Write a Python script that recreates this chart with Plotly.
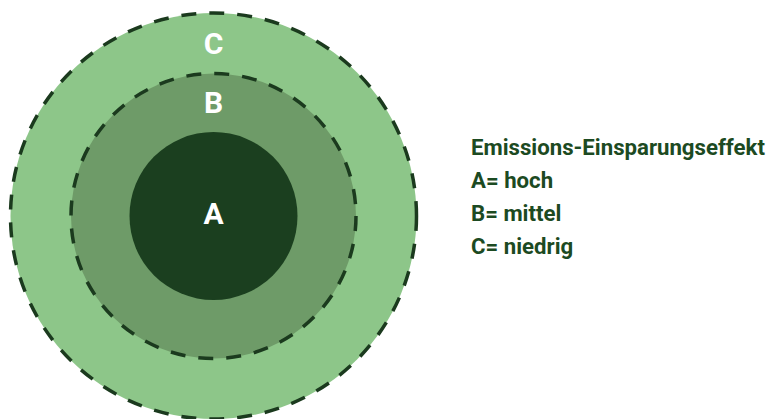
import plotly.graph_objects as go

# Data
levels = ["C", "B", "A"]
radii = [203, 142.5, 84]
fill_colors = ["#8dc689", "#6e9b68", "#1b3f1f"]
dashed = [True, True, False]
center = (213.5, 216)  # page pixel coordinates (y downwards)

legend_title = "Emissions-Einsparungseffekt"
legend_lines = ["A= hoch", "B= mittel", "C= niedrig"]

PAGE_W, PAGE_H = 776, 419
OFF = 8  # default body margin of the page
W, H = PAGE_W - OFF, PAGE_H - OFF

fig = go.Figure()

cx, cy = center
for r, col, d in zip(radii, fill_colors, dashed):
    fig.add_shape(
        type="circle", xref="x", yref="y",
        x0=cx - r, x1=cx + r, y0=cy - r, y1=cy + r,
        fillcolor=col,
        line=dict(color="#1b3a1e", width=3.5, dash="15px,13px") if d else dict(width=0),
        layer="below",
    )

TEXT_DY = 3  # small downward nudge of the glyphs
label_y = [
    cy - (radii[0] + radii[1]) / 2 + TEXT_DY,
    cy - (radii[1] + radii[2]) / 2 + TEXT_DY,
    cy - 3 + TEXT_DY,
]
fig.add_trace(go.Scatter(
    x=[cx] * 3, y=label_y, mode="text", text=levels,
    textposition="middle center",
    textfont=dict(family="Roboto", size=30, color="white", weight="bold"),
    hoverinfo="skip", showlegend=False,
))

leg_x = 469
leg_y = [147, 180, 213, 246]
texts = [legend_title] + legend_lines
for t, y in zip(texts, leg_y):
    fig.add_annotation(
        x=leg_x, y=y, xref="x", yref="y", text=t, showarrow=False,
        xanchor="left", yanchor="middle",
        font=dict(family="Roboto", size=22.2, color="#1c4a22", weight="bold"),
    )

fig.update_layout(
    width=W, height=H, margin=dict(l=0, r=0, t=0, b=0),
    paper_bgcolor="white", plot_bgcolor="white",
    xaxis=dict(range=[OFF, PAGE_W], visible=False, fixedrange=True),
    yaxis=dict(range=[PAGE_H, OFF], visible=False, fixedrange=True),
)
fig.write_html("out.html")
